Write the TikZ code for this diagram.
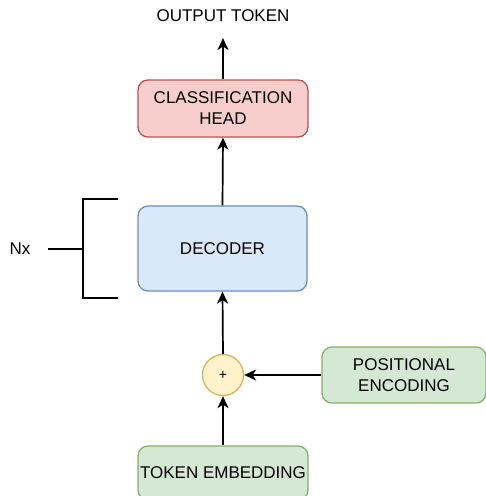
\documentclass[tikz,border=0pt]{standalone}
\usepackage{fontspec}
\setmainfont{Liberation Sans}
\usetikzlibrary{arrows.meta}
\definecolor{redfill}{HTML}{F8CECC}
\definecolor{redline}{HTML}{B85450}
\definecolor{bluefill}{HTML}{DAE8FC}
\definecolor{blueline}{HTML}{6C8EBF}
\definecolor{greenfill}{HTML}{D5E8D4}
\definecolor{greenline}{HTML}{82B366}
\definecolor{yellowfill}{HTML}{FFF2CC}
\definecolor{yellowline}{HTML}{D6B656}
\tikzset{
  block/.style={draw, line width=1.3pt, rounded corners=10pt, align=center,
    inner sep=0pt, font=\fontsize{17}{21}\selectfont},
  flow/.style={line width=1.7pt, -{Stealth[length=12pt,width=11pt,inset=3.5pt]}},
  brace/.style={line width=2.6pt},
  label/.style={font=\fontsize{17}{21}\selectfont}
}
\begin{document}
\begin{tikzpicture}[x=1pt,y=-1pt]
  \useasboundingbox (0,0) rectangle (486,496);
  \begin{scope}
    \clip (0,0) rectangle (486,496);
    % blocks
    \node[block, fill=redfill, draw=redline, minimum width=170pt, minimum height=57pt]
      (head) at (223,108.5) {CLASSIFICATION\\HEAD};
    \node[block, fill=bluefill, draw=blueline, minimum width=169pt, minimum height=85pt]
      (dec) at (222.5,248.5) {DECODER};
    \node[block, fill=greenfill, draw=greenline, minimum width=164pt, minimum height=56pt]
      (pos) at (404,375) {POSITIONAL\\ENCODING};
    \node[block, fill=greenfill, draw=greenline, minimum width=170pt, minimum height=54pt]
      (emb) at (223,473) {TOKEN EMBEDDING};
    \node[circle, draw=yellowline, fill=yellowfill, line width=1.3pt, minimum size=41pt,
      inner sep=0pt, font=\fontsize{14}{16}\selectfont] (sum) at (223,375) {+};
    \node[label] (out) at (223,16) {OUTPUT TOKEN};
    \coordinate (outtip) at (223,38);
    % connectors
    \draw[flow] (head.north) -- (outtip);
    \draw[flow] (dec.north) -- (head.south);
    \draw[flow] (sum.north) -- (dec.south);
    \draw[flow] (emb.north) -- (sum.south);
    \draw[flow] (pos.west) -- (sum.east);
    % repetition bracket
    \coordinate (btop) at (118,199);
    \coordinate (bbot) at (118,298);
    \coordinate (bmid) at (83,249);
    \draw[brace] (btop) -- (83,199) -- (83,298) -- (bbot);
    \node[label] (nx) at (20,249) {Nx};
    \draw[brace] (48,249) -- (bmid);
  \end{scope}
\end{tikzpicture}
\end{document}
